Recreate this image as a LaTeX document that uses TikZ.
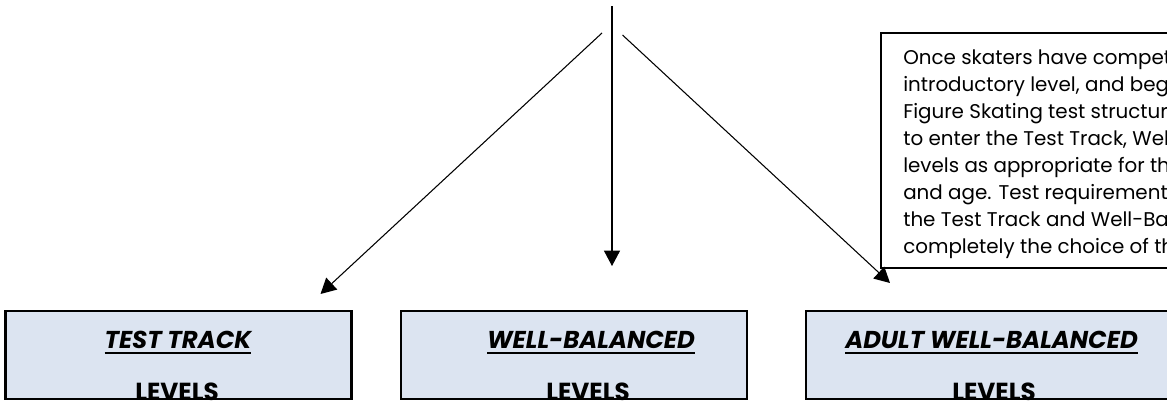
\documentclass[tikz,border=0pt]{standalone}
\usepackage{fontspec}
\setmainfont{Poppins}
\newfontfamily\bodyfont{Poppins}
\usetikzlibrary{arrows.meta}
\definecolor{boxfill}{RGB}{220,228,241}
\newcommand\myul[1]{\setbox0\hbox{#1}\rlap{\rule[-4.2pt]{\wd0}{1.3pt}}\box0}
\tikzset{
  levelbox/.style={draw=black, line width=1.8pt, fill=boxfill},
  notebox/.style={draw=black, line width=1.5pt, fill=white},
  conn/.style={draw=black, line width=0.8pt, -{Triangle[length=11.5pt,width=12pt]}},
  title/.style={inner sep=0pt, anchor=base, font=\fontsize{18.3}{22}\selectfont\bfseries\itshape},
  lev/.style={inner sep=0pt, anchor=base, font=\fontsize{18.5}{22}\selectfont\bfseries},
  body/.style={inner sep=0pt, anchor=north west, align=left, font=\bodyfont\fontsize{14.9}{20.2}\selectfont}
}
\begin{document}
\begin{tikzpicture}[x=0.75pt,y=-0.75pt]
\useasboundingbox (0,0) rectangle (1167,400);
\clip (0,0) rectangle (1167,400);
% note box
\draw[notebox] (881,33) rectangle (1200,268);
\node[body] (note) at (903,49.5) {Once skaters have compet\\introductory level, and begi\\Figure Skating test structure,\\to enter the Test Track, Well-\\levels as appropriate for the\\and age. Test requirements\\the Test Track and Well-Bala\\completely the choice of th};
% level boxes
\draw[levelbox] (5.5,311) rectangle (351.5,399);
\draw[levelbox] (401,311) rectangle (747,399);
\draw[levelbox] (806,311) rectangle (1200,399);
\node[title] (t1) at (178,348) {\myul{TEST TRACK}};
\node[lev] (l1) at (177,400.5) {LEVELS};
\node[title] (t2) at (591,348) {\myul{WELL-BALANCED}};
\node[lev] (l2) at (588,400.5) {LEVELS};
\node[title] (t3) at (991.5,348) {\myul{ADULT WELL-BALANCED}};
\node[lev] (l3) at (994,400.5) {LEVELS};
% connectors
\coordinate (top) at (612,6);
\coordinate (midend) at (612,266);
\coordinate (lstart) at (602,33);
\coordinate (lend) at (320.5,294);
\coordinate (rstart) at (622.5,35);
\coordinate (rend) at (890,283);
\draw[conn] (top) -- (midend);
\draw[conn] (lstart) -- (lend);
\draw[conn] (rstart) -- (rend);
\end{tikzpicture}
\end{document}
